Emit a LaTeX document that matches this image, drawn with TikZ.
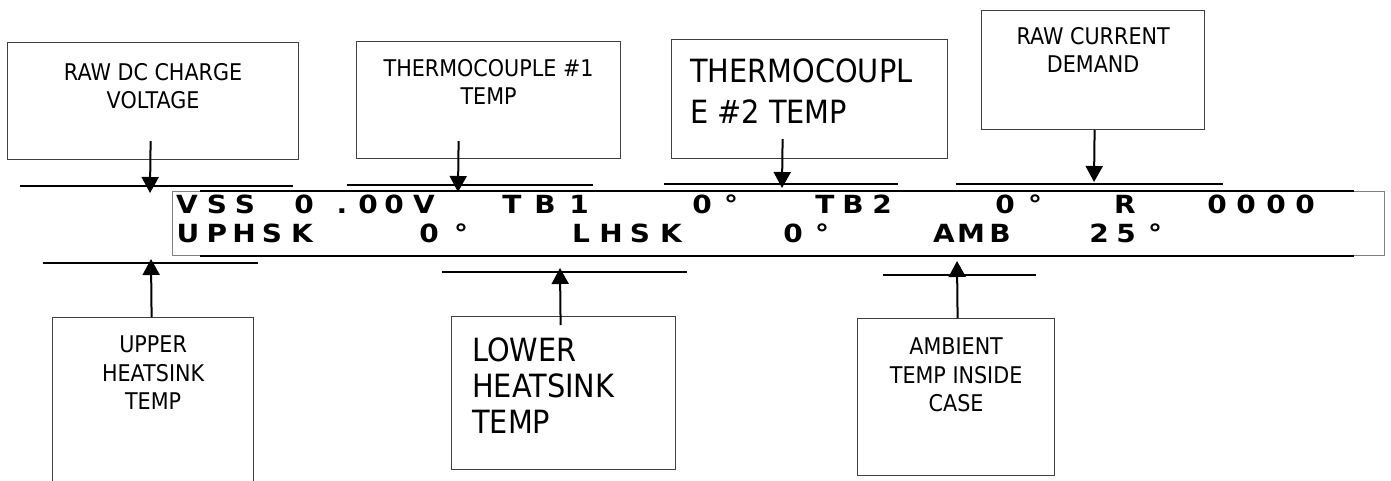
\documentclass[tikz,border=0pt]{standalone}
\usepackage{fontspec}
\setmainfont{DejaVu Sans}[FakeStretch=0.9]
\newfontfamily\lcdfont{DejaVu Sans}[FakeStretch=1.12]
\usetikzlibrary{arrows.meta,positioning}

\tikzset{
  note/.style={draw=black!75,line width=1.2pt,anchor=north west,inner sep=0pt},
  notetext/.style={inner sep=0pt,align=center,font=\fontsize{23}{28.5}\selectfont},
  bigtext/.style={inner sep=0pt,align=left,anchor=north west},
  lcdchar/.style={inner sep=0pt,anchor=base,font=\lcdfont\bfseries\fontsize{25}{25}\selectfont},
  barline/.style={line width=2pt},
  feed/.style={line width=2pt,-{Triangle[length=16pt,width=17pt]}}
}

\begin{document}
\begin{tikzpicture}[x=1pt,y=-1pt]
  \useasboundingbox (0,0) rectangle (1391,480);

  % display panel
  \node[draw=black!50,line width=1pt,anchor=north west,inner sep=0pt,
        minimum width=1212,minimum height=64] (lcd) at (172,191) {};
  \draw[line width=2.4pt] ([xshift=28pt]lcd.north west) -- ([xshift=-31pt]lcd.north east);
  \draw[line width=2.4pt] ([xshift=28pt]lcd.south west) -- ([xshift=-31pt]lcd.south east);

  \foreach \x/\c [count=\i] in {187/V,217/S,245/S,304/0,342/.,368/0,394/0,424/V,
      512/T,545/B,579/1,702/0,731/°,825/T,853/B,882/2,1005/0,1035/°,
      1125/R,1217/0,1246/0,1276/0,1305/0}
    \node[lcdchar] (up\i) at (\x,213) {\c};
  \foreach \x/\c [count=\i] in {188/U,217/P,244/H,272/S,302/K,429/0,461/°,
      581/L,611/H,640/S,671/K,793/0,822/°,944/A,971/M,1000/B,1099/2,1126/5,1155/°}
    \node[lcdchar] (lo\i) at (\x,242) {\c};

  % upper notes
  \node[note,minimum width=291,minimum height=117] (rawv) at (7,42) {};
  \node[notetext,below=21pt of rawv.north] (rawv-t) {RAW DC CHARGE\\VOLTAGE};
  \node[note,minimum width=264,minimum height=117] (tc1) at (356,41) {};
  \node[notetext,below=18pt of tc1.north] (tc1-t) {THERMOCOUPLE \#1\\TEMP};
  \node[note,minimum width=276,minimum height=119] (tc2) at (671,39) {};
  \node[bigtext,font=\fontsize{32}{41}\selectfont,below right=20pt and 19pt of tc2.north west]
       (tc2-t) {THERMOCOUPL\\E \#2 TEMP};
  \node[note,minimum width=223,minimum height=119] (rawi) at (981,10) {};
  \node[notetext,below=17pt of rawi.north] (rawi-t) {RAW CURRENT\\DEMAND};

  % lower notes
  \node[note,minimum width=201,minimum height=175] (uphs) at (52,317) {};
  \node[notetext,below=19pt of uphs.north] (uphs-t) {UPPER\\HEATSINK\\TEMP};
  \node[note,minimum width=224,minimum height=153] (lohs) at (451,316) {};
  \node[bigtext,font=\fontsize{32}{36}\selectfont,below right=22pt and 21pt of lohs.north west]
       (lohs-t) {LOWER\\HEATSINK\\TEMP};
  \node[note,minimum width=197,minimum height=157] (amb) at (857,318) {};
  \node[notetext,below=20pt of amb.north] (amb-t) {AMBIENT\\TEMP INSIDE\\CASE};

  % rulers
  \draw[barline] (20,186) -- (293,186);
  \draw[barline] (347,185) -- (593,185);
  \draw[barline] (664,184) -- (898,184);
  \draw[barline] (956,184) -- (1223,184);
  \draw[barline] (43,263) -- (258,263);
  \draw[barline] (442,272) -- (687,272);
  \draw[barline] (883,275) -- (1036,275);

  % arrows
  \coordinate (rawv-in) at (150,193);
  \coordinate (tc1-in) at (458,192);
  \coordinate (tc2-in) at (782,188);
  \coordinate (rawi-in) at (1094,182);
  \coordinate (uphs-in) at (151,259);
  \coordinate (lohs-in) at (560,268);
  \coordinate (amb-in) at (957,261);
  \draw[feed] ([xshift=-2.5pt,yshift=19pt]rawv.south) -- (rawv-in);
  \draw[feed] ([xshift=-30pt,yshift=18pt]tc1.south) -- (tc1-in);
  \draw[feed] ([xshift=-27pt,yshift=20pt]tc2.south) -- (tc2-in);
  \draw[feed] ([xshift=1.5pt]rawi.south) -- (rawi-in);
  \draw[feed] ([xshift=-1.5pt]uphs.north) -- (uphs-in);
  \draw[feed] ([xshift=-3pt,yshift=-9pt]lohs.north) -- (lohs-in);
  \draw[feed] ([xshift=1.5pt]amb.north) -- (amb-in);
\end{tikzpicture}
\end{document}
